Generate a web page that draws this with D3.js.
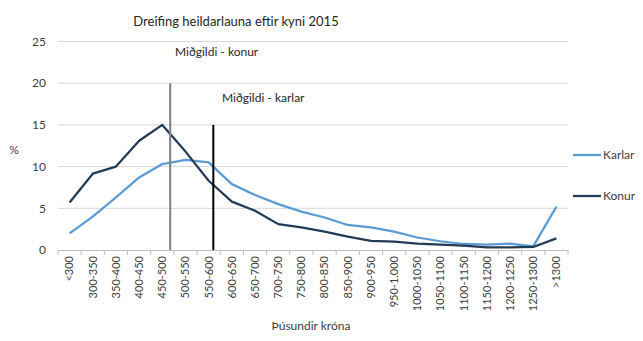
<!DOCTYPE html>
<html>
<head>
<meta charset="utf-8">
<script src="https://cdn.jsdelivr.net/npm/d3@7"></script>
<style>
  html, body { margin: 0; padding: 0; background: #fff; }
  svg { display: block; font-family: Lato, "Open Sans", sans-serif; }
</style>
</head>
<body>
<svg id="chart" width="643" height="341"></svg>
<script>
// Salary bands (thousand ISK)
const categories = ["<300","300-350","350-400","400-450","450-500","500-550","550-600","600-650","650-700","700-750","750-800","800-850","850-900","900-950","950-1.000","1000-1050","1050-1100","1100-1150","1150-1200","1200-1250","1250-1300",">1300"];

// Share of each sex in each band (%)
const karlar = [2.0, 4.0, 6.3, 8.7, 10.3, 10.8, 10.5, 7.9, 6.6, 5.5, 4.6, 3.9, 3.0, 2.7, 2.2, 1.5, 1.05, 0.72, 0.64, 0.76, 0.44, 5.2];
const konur  = [5.7, 9.15, 10.0, 13.1, 15.0, 11.8, 8.3, 5.8, 4.7, 3.1, 2.7, 2.2, 1.6, 1.1, 1.0, 0.76, 0.64, 0.52, 0.32, 0.32, 0.36, 1.4];

// Medians (thousand ISK) and the height of their marker lines (%)
const medianKonur = 492, medianKonurTop = 20;
const medianKarlar = 585, medianKarlarTop = 15;

const yTicks = [0, 5, 10, 15, 20, 25];

const svg = d3.select("#chart");
const plotLeft = 58, plotRight = 568, plotTop = 41.5, plotBottom = 250;

const x = d3.scaleBand().domain(categories).range([plotLeft, plotRight]).padding(0);
const y = d3.scaleLinear().domain([0, 25]).range([plotBottom, plotTop]);
// continuous salary scale across the bands: band i spans 250+50i .. 300+50i
const xk = d3.scaleLinear().domain([250, 250 + 50 * categories.length]).range([plotLeft, plotRight]);

// gridlines
svg.append("g").selectAll("line").data(yTicks.filter(d => d > 0)).join("line")
  .attr("x1", plotLeft).attr("x2", plotRight)
  .attr("y1", d => y(d)).attr("y2", d => y(d))
  .attr("stroke", "#d9d9d9").attr("stroke-width", 1);

// y axis labels
svg.append("g").selectAll("text").data(yTicks).join("text")
  .attr("x", 46).attr("y", d => y(d)).attr("dy", "0.35em")
  .attr("text-anchor", "end").attr("font-size", 12).attr("fill", "#404040")
  .text(d => d);

// x axis
const xAxis = svg.append("g").attr("transform", `translate(0,${plotBottom})`)
  .call(d3.axisBottom(x).tickSize(0).tickSizeOuter(0));
xAxis.select(".domain").attr("stroke", "#bfbfbf");
xAxis.selectAll(".tick text")
  .attr("transform", "rotate(-90)")
  .attr("x", -6).attr("y", 0).attr("dy", "0.35em")
  .attr("text-anchor", "end")
  .attr("font-family", "Lato, 'Open Sans', sans-serif")
  .attr("font-size", 11).attr("fill", "#404040");
// boundary tick marks between bands
svg.append("g").selectAll("line")
  .data(d3.range(categories.length + 1))
  .join("line")
  .attr("x1", i => plotLeft + i * x.bandwidth()).attr("x2", i => plotLeft + i * x.bandwidth())
  .attr("y1", plotBottom).attr("y2", plotBottom + 5)
  .attr("stroke", "#bfbfbf").attr("stroke-width", 1);

// series lines
const line = d3.line()
  .x((d, i) => x(categories[i]) + x.bandwidth() / 2)
  .y(d => y(d));

svg.append("path").datum(karlar).attr("d", line)
  .attr("fill", "none").attr("stroke", "#5b9bd5").attr("stroke-width", 2.25)
  .attr("stroke-linejoin", "round");
svg.append("path").datum(konur).attr("d", line)
  .attr("fill", "none").attr("stroke", "#243b56").attr("stroke-width", 2.25)
  .attr("stroke-linejoin", "round");

// median markers
svg.append("line")
  .attr("x1", xk(medianKonur)).attr("x2", xk(medianKonur))
  .attr("y1", y(0)).attr("y2", y(medianKonurTop))
  .attr("stroke", "#808080").attr("stroke-width", 2);
svg.append("line")
  .attr("x1", xk(medianKarlar)).attr("x2", xk(medianKarlar))
  .attr("y1", y(0)).attr("y2", y(medianKarlarTop))
  .attr("stroke", "#000").attr("stroke-width", 2);

svg.append("text").attr("x", 175).attr("y", 52).attr("dy", "0.35em")
  .attr("font-size", 12).attr("fill", "#262626").text("Miðgildi - konur");
svg.append("text").attr("x", 222).attr("y", 98).attr("dy", "0.35em")
  .attr("font-size", 12).attr("fill", "#262626").text("Miðgildi - karlar");

// title
svg.append("text").attr("x", 236).attr("y", 21).attr("dy", "0.35em")
  .attr("text-anchor", "middle").attr("font-size", 13).attr("fill", "#262626")
  .text("Dreifing heildarlauna eftir kyni 2015");

// axis titles
svg.append("text").attr("x", 14).attr("y", 150).attr("dy", "0.35em")
  .attr("text-anchor", "middle").attr("font-size", 12).attr("fill", "#404040").text("%");
svg.append("text").attr("x", 311).attr("y", 326).attr("dy", "0.35em")
  .attr("text-anchor", "middle").attr("font-size", 12).attr("fill", "#404040").text("Þúsundir króna");

// legend
const legend = [
  { name: "Karlar", color: "#5b9bd5", yPos: 155 },
  { name: "Konur", color: "#243b56", yPos: 196 }
];
const lg = svg.append("g").selectAll("g").data(legend).join("g");
lg.append("line").attr("x1", 573).attr("x2", 601)
  .attr("y1", d => d.yPos).attr("y2", d => d.yPos)
  .attr("stroke", d => d.color).attr("stroke-width", 2.25);
lg.append("text").attr("x", 603).attr("y", d => d.yPos).attr("dy", "0.35em")
  .attr("font-size", 12).attr("fill", "#404040").text(d => d.name);
</script>
</body>
</html>
